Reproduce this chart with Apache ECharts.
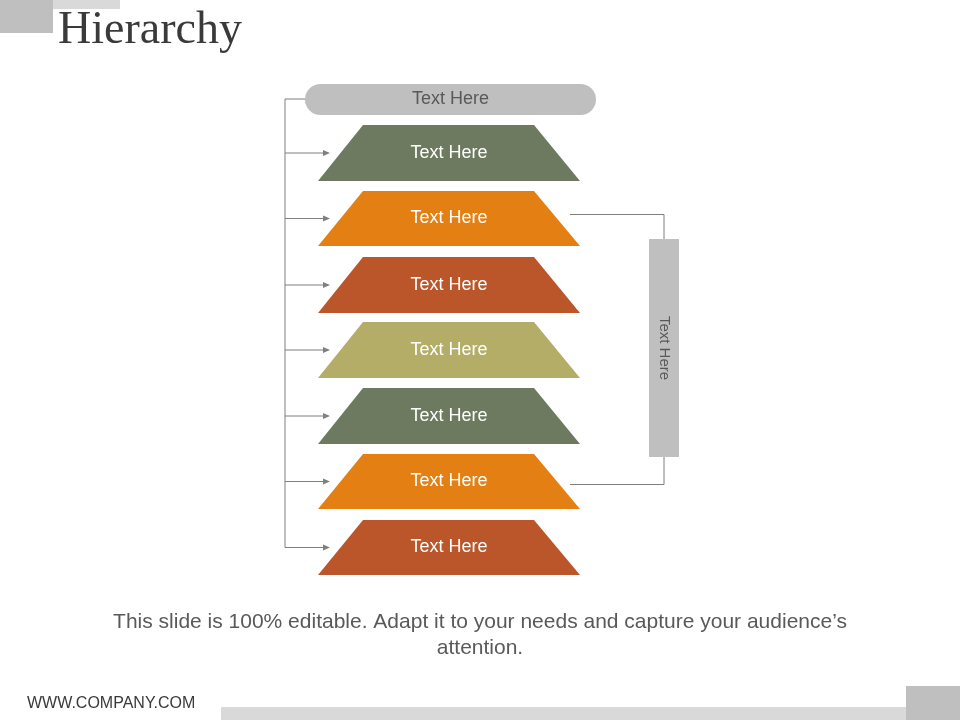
<!DOCTYPE html>
<html lang="en">
  <head>
    <meta charset="UTF-8" />
    <title>Hierarchy</title>
    <script src="https://cdn.jsdelivr.net/npm/echarts@6/dist/echarts.min.js"></script>
  </head>
  <body style="margin: 0">
    <div id="main" style="width: 960px; height: 720px"></div>
    <script type="text/javascript">
      // level labels, top to bottom
      let levels = ["Text Here", "Text Here", "Text Here", "Text Here", "Text Here", "Text Here", "Text Here"];
      let levelColors = ["#6e7a60", "#e48013", "#bb562a", "#b4ad68", "#6e7a60", "#e48013", "#bb562a"];
      // top and bottom of each layer (page units)
      let levelTops = [125, 191, 257, 322, 388, 454, 520];
      let levelBottoms = [181, 246, 313, 378, 444, 509, 575];
      let headLabel = "Text Here";
      let sideLabel = "Text Here";

      let myChart = echarts.init(document.getElementById("main"));
      let grey = "#7f7f7f";
      let sans = "'Liberation Sans', Arial";

      let options = {
        animation: false,
        grid: { left: 0, right: 0, top: 0, bottom: 0 },
        xAxis: { type: "value", min: 0, max: 960, show: false },
        yAxis: { type: "value", min: 0, max: 720, inverse: true, show: false },
        graphic: [
          { type: "rect", shape: { x: 0, y: 0, width: 53, height: 33 }, style: { fill: "#bfbfbf" } },
          { type: "rect", shape: { x: 53, y: 0, width: 67, height: 9 }, style: { fill: "#d9d9d9" } },
          { type: "text", left: 58, top: 8, style: { text: "Hierarchy", font: "46px 'Liberation Serif', serif", fill: "#3a3a3a" } },
          { type: "text", left: "center", top: 612, style: { text: "This slide is 100% editable. Adapt it to your needs and capture your audience\u2019s", font: "21px " + sans, fill: "#595959" } },
          { type: "text", left: "center", top: 638, style: { text: "attention.", font: "21px " + sans, fill: "#595959" } },
          { type: "text", left: 27, top: 696, style: { text: "WWW.COMPANY.COM", font: "16px " + sans, fill: "#3a3a3a" } },
          { type: "rect", shape: { x: 221, y: 707, width: 685, height: 13 }, style: { fill: "#d9d9d9" } },
          { type: "rect", shape: { x: 906, y: 686, width: 54, height: 34 }, style: { fill: "#bfbfbf" } }
        ],
        series: [
          {
            type: "custom",
            data: levels.map((l, i) => [i, levelTops[i], levelBottoms[i]]),
            renderItem: function (params, api) {
              let i = api.value(0);
              let tl = api.coord([363, api.value(1)]);
              let tr = api.coord([534, api.value(1)]);
              let br = api.coord([580, api.value(2)]);
              let bl = api.coord([318, api.value(2)]);
              let mid = (tl[1] + bl[1]) / 2;
              let lx = api.coord([285, 0])[0];
              let ax = api.coord([330, 0])[0];
              return {
                type: "group",
                children: [
                  { type: "polygon", shape: { points: [tl, tr, br, bl] }, style: { fill: levelColors[i] } },
                  { type: "text", style: { text: levels[i], x: (bl[0] + br[0]) / 2, y: mid, align: "center", verticalAlign: "middle", font: "18px " + sans, fill: "#ffffff" } },
                  { type: "line", shape: { x1: lx, y1: mid, x2: ax - 6, y2: mid }, style: { stroke: grey, lineWidth: 1 } },
                  { type: "polygon", shape: { points: [[ax, mid], [ax - 7, mid - 3], [ax - 7, mid + 3]] }, style: { fill: grey } }
                ]
              };
            }
          },
          {
            type: "custom",
            data: [[99]],
            renderItem: function (params, api) {
              let c = api.coord([305, 84]);
              let d = api.coord([596, 115]);
              let lx = api.coord([285, 0])[0];
              let yEnd = api.coord([0, (levelTops[6] + levelBottoms[6]) / 2])[1];
              let y = api.coord([0, api.value(0)])[1];
              let rTop = api.coord([0, (levelTops[1] + levelBottoms[1]) / 2])[1] - 4;
              let rBot = api.coord([0, (levelTops[5] + levelBottoms[5]) / 2])[1] + 3;
              let bx = api.coord([649, 239]);
              let bx2 = api.coord([679, 457]);
              let rx = api.coord([664, 0])[0];
              let sx = api.coord([570, 0])[0];
              return {
                type: "group",
                children: [
                  { type: "polyline", shape: { points: [[c[0], y], [lx, y], [lx, yEnd]] }, style: { stroke: grey, lineWidth: 1, fill: null } },
                  { type: "rect", shape: { x: c[0], y: c[1], width: d[0] - c[0], height: d[1] - c[1], r: 16 }, style: { fill: "#bfbfbf" } },
                  { type: "text", style: { text: headLabel, x: (c[0] + d[0]) / 2, y: y, align: "center", verticalAlign: "middle", font: "18px " + sans, fill: "#595959" } },
                  { type: "polyline", shape: { points: [[sx, rTop], [rx, rTop], [rx, bx[1]]] }, style: { stroke: grey, lineWidth: 1, fill: null } },
                  { type: "polyline", shape: { points: [[rx, bx2[1]], [rx, rBot], [sx, rBot]] }, style: { stroke: grey, lineWidth: 1, fill: null } },
                  { type: "rect", shape: { x: bx[0], y: bx[1], width: bx2[0] - bx[0], height: bx2[1] - bx[1] }, style: { fill: "#bfbfbf" } },
                  { type: "text", x: rx, y: (bx[1] + bx2[1]) / 2, rotation: -Math.PI / 2, style: { text: sideLabel, x: 0, y: 0, align: "center", verticalAlign: "middle", font: "15px " + sans, fill: "#595959" } }
                ]
              };
            }
          }
        ]
      };
      myChart.setOption(options);
    </script>
  </body>
</html>
